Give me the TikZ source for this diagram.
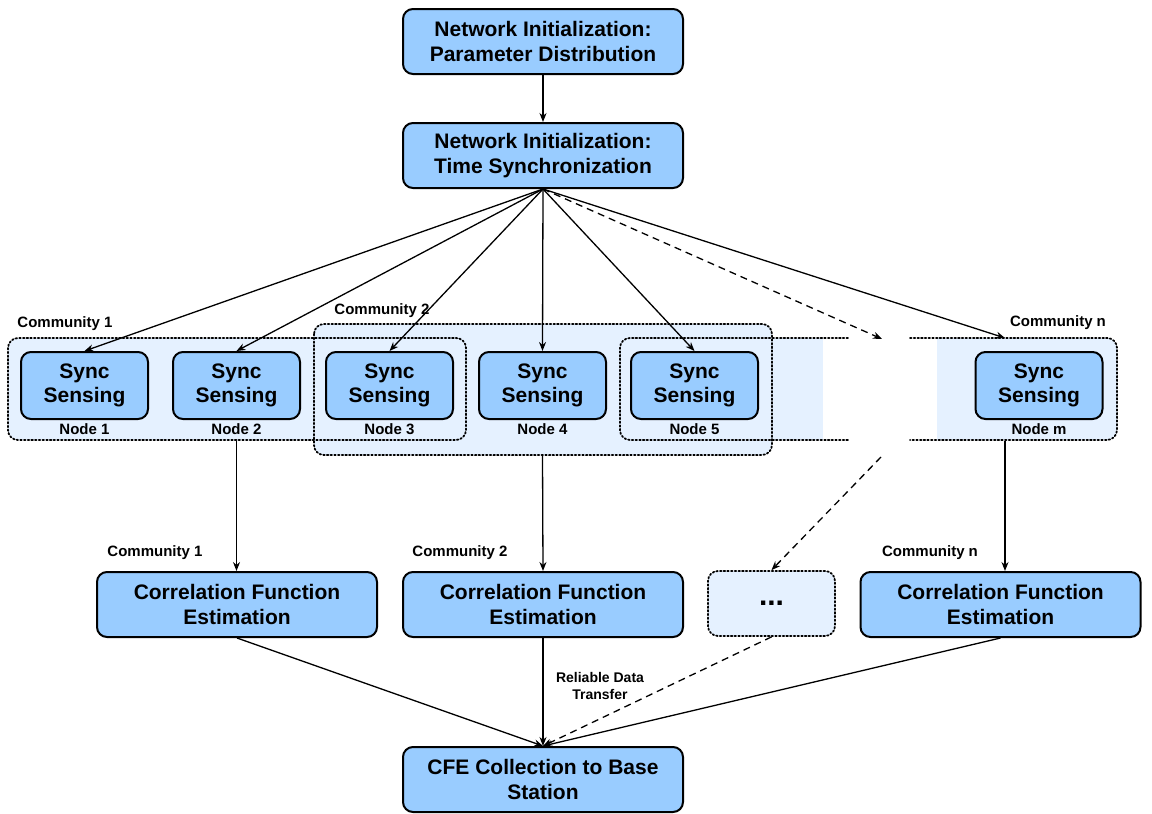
\documentclass[tikz,border=0pt]{standalone}
\usepackage{fontspec}
\setmainfont{Liberation Sans}
\usetikzlibrary{arrows.meta}
\definecolor{boxblue}{HTML}{99CCFF}
\definecolor{bandblue}{HTML}{E5F1FF}
\tikzset{
  bigbox/.style={draw, line width=2pt, fill=boxblue, rounded corners=10pt,
    minimum width=280pt, minimum height=65pt, align=center,
    font=\fontsize{21}{25}\selectfont\bfseries},
  syncbox/.style={draw, line width=2pt, fill=boxblue, rounded corners=10pt,
    minimum width=127pt, minimum height=67pt, align=center,
    font=\fontsize{21}{24}\selectfont\bfseries},
  lbl/.style={font=\fontsize{15}{16}\selectfont\bfseries, align=center, inner sep=0pt},
  arr/.style={line width=1.3pt, -{Stealth[length=9pt,width=7pt]}},
  darr/.style={arr, dash pattern=on 7pt off 5pt},
  dotbox/.style={line width=1.8pt, dash pattern=on 1.5pt off 2.2pt, line cap=round, rounded corners=10pt},
}
\begin{document}
\begin{tikzpicture}[x=1pt,y=-1pt]
\useasboundingbox (0,0) rectangle (1152,814);
% band fills
\fill[bandblue, rounded corners=10pt] (314,324) rectangle (772,455);
\fill[bandblue, rounded corners=10pt] (8,338) rectangle (850,440);
\fill[bandblue, rounded corners=10pt] (905,338) rectangle (1117,440);
\fill[white] (823,330) rectangle (937,446);
% dotted community outlines
\draw[dotbox] (8,338) rectangle (466,440);
\draw[dotbox] (314,324) rectangle (772,455);
\draw[dotbox] (848,338) -- (620,338) -- (620,440) -- (848,440);
\draw[dotbox] (910,338) -- (1117,338) -- (1117,440) -- (910,440);
% top boxes
\node[bigbox] (A) at (543,41.5) {Network Initialization:\\Parameter Distribution};
\node[bigbox] (B) at (543,155.5) {Network Initialization:\\Time Synchronization};
% sync nodes
\node[syncbox] (n1) at (84.5,385.5) {Sync\\Sensing};
\node[syncbox] (n2) at (236.5,385.5) {Sync\\Sensing};
\node[syncbox] (n3) at (389.5,385.5) {Sync\\Sensing};
\node[syncbox] (n4) at (542.5,385.5) {Sync\\Sensing};
\node[syncbox] (n5) at (694.5,385.5) {Sync\\Sensing};
\node[syncbox] (nm) at (1039,385.5) {Sync\\Sensing};
\node[lbl] (l1) at (84.5,429) {Node 1};
\node[lbl] (l2) at (236.5,429) {Node 2};
\node[lbl] (l3) at (389.5,429) {Node 3};
\node[lbl] (l4) at (542.5,429) {Node 4};
\node[lbl] (l5) at (694.5,429) {Node 5};
\node[lbl] (lm) at (1039,429) {Node m};
\node[lbl] (k1) at (65,324) {Community 1};
\node[lbl] (k2) at (382,311) {Community 2};
\node[lbl] (kn) at (1058,323) {Community n};
% CFE boxes
\node[bigbox] (C1) at (237,604.5) {Correlation Function\\Estimation};
\node[bigbox] (C2) at (543,604.5) {Correlation Function\\Estimation};
\node[bigbox] (C3) at (1000.5,604.5) {Correlation Function\\Estimation};
\node[dotbox, draw, fill=bandblue, minimum width=127pt, minimum height=65pt,
  font=\fontsize{30}{30}\selectfont\bfseries] (E) at (771.5,603.5) {...};
\node[lbl] (q1) at (155,553) {Community 1};
\node[lbl] (q2) at (460,553) {Community 2};
\node[lbl] (qn) at (930,553) {Community n};
% bottom box
\node[bigbox] (F) at (543,779.5) {CFE Collection to Base\\Station};
\node[lbl, font=\fontsize{14}{16.5}\selectfont\bfseries] (rt) at (600,686) {Reliable Data\\Transfer};
% coordinates
\coordinate (gapT) at (882,339);
\coordinate (cnT) at (1005,338);
\coordinate (s2) at (236.5,441);
\coordinate (s4) at (542.5,455);
\coordinate (sm) at (1005,441);
\coordinate (gapB) at (881,457);
\coordinate (t1) at (236.5,571);
\coordinate (tm) at (1005,571);
% connectors
\draw[arr] (A) -- (B);
\draw[arr] (B.south) -- (n1.north);
\draw[arr] (B.south) -- (n2.north);
\draw[arr] (B.south) -- (n3.north);
\draw[arr] (B.south) -- (n4.north);
\draw[arr] (B.south) -- (n5.north);
\draw[darr] (B.south) -- (gapT);
\draw[arr] (B.south) -- (cnT);
\draw[arr] (s2) -- (t1);
\draw[arr] (s4) -- (C2.north);
\draw[arr] (sm) -- (tm);
\draw[darr] (gapB) -- (E.north);
\draw[arr] (C1.south) -- (F.north);
\draw[arr] (C2.south) -- (F.north);
\draw[darr] (E.south) -- (F.north);
\draw[arr] (C3.south) -- (F.north);
\end{tikzpicture}
\end{document}
